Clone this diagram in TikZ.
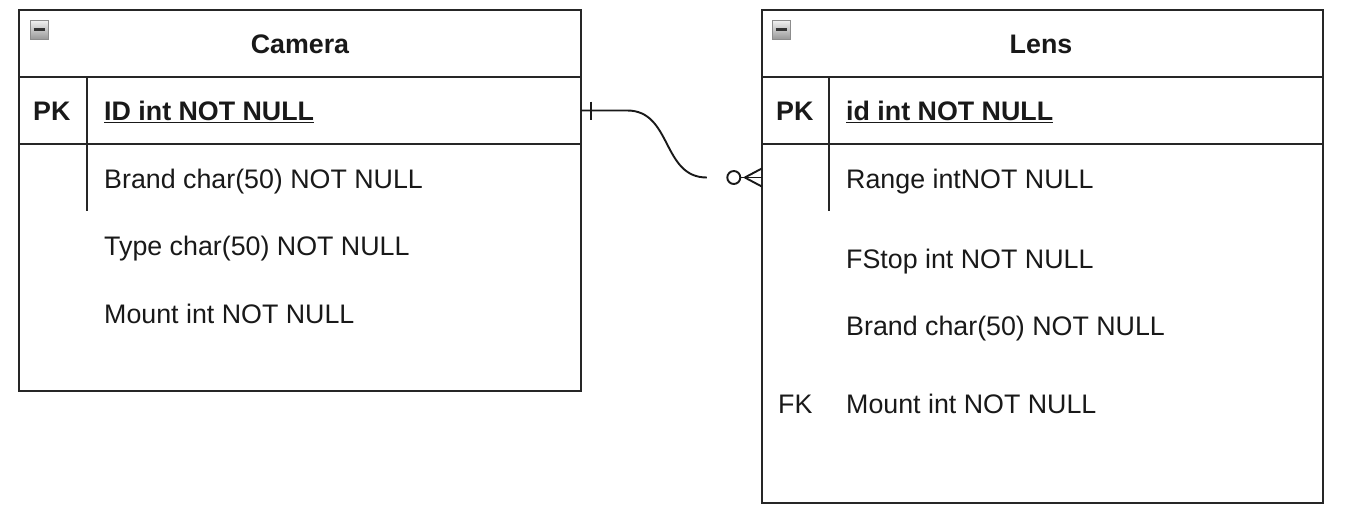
\documentclass[tikz,border=0pt]{standalone}
\usepackage{fontspec}
\setmainfont{Liberation Sans}
\usetikzlibrary{calc}
\begin{document}
\begin{tikzpicture}[x=1pt,y=-1pt,
  tbl/.style={draw=black!85,line width=2pt,fill=white},
  sep/.style={draw=black!85,line width=1.8pt},
  txt/.style={anchor=base west,inner sep=0pt,font=\fontsize{26.8}{30}\selectfont,text=black!90},
  btxt/.style={txt,font=\fontsize{26.8}{30}\selectfont\bfseries},
  ttl/.style={anchor=base,inner sep=0pt,font=\fontsize{26.8}{30}\selectfont\bfseries,text=black!90},
  conn/.style={draw=black!90,line width=1.9pt},
  icon/.style={draw=black!45,line width=1pt,top color=black!5,bottom color=black!40}
]
\useasboundingbox (0,0) rectangle (1352,531);
% ---------- Camera table ----------
\path[tbl] (19,10) rectangle (581,391);
\draw[sep] (19,77) -- (581,77);
\draw[sep] (19,144) -- (581,144);
\draw[sep] (87,77) -- (87,211);
\node[minimum width=562pt,minimum height=67pt,inner sep=0pt] (camPK) at (300,110.5) {};
\path[icon] (30,20) rectangle (48,39);
\draw[black!80,line width=3pt] (33.5,29.5) -- (44.5,29.5);
\node[ttl] (camT) at (300,53) {Camera};
\node[btxt] (camPKl) at (33,120.5) {PK};
\node[btxt] (camID) at (104,120.5) {\underline{ID int NOT NULL}};
\node[txt] (camBrand) at (104,188.5) {Brand char(50) NOT NULL};
\node[txt] (camType) at (104,255.5) {Type char(50) NOT NULL};
\node[txt] (camMount) at (104,323.5) {Mount int NOT NULL};
% ---------- Lens table ----------
\path[tbl] (762,10) rectangle (1323,503);
\draw[sep] (762,77) -- (1323,77);
\draw[sep] (762,144) -- (1323,144);
\draw[sep] (829,77) -- (829,211);
\node[minimum width=561pt,minimum height=67pt,inner sep=0pt] (lensRange) at (1042.5,177.5) {};
\path[icon] (772,20) rectangle (790,39);
\draw[black!80,line width=3pt] (775.5,29.5) -- (786.5,29.5);
\node[ttl] (lensT) at (1041,53) {Lens};
\node[btxt] (lensPKl) at (776,120.5) {PK};
\node[btxt] (lensID) at (846,120.5) {\underline{id int NOT NULL}};
\node[txt] (lensRangeT) at (846,188.5) {Range intNOT NULL};
\node[txt] (lensFStop) at (846,268.5) {FStop int NOT NULL};
\node[txt] (lensBrand) at (846,335.5) {Brand char(50) NOT NULL};
\node[txt] (lensFK) at (778,413.5) {FK};
\node[txt] (lensMount) at (846,413.5) {Mount int NOT NULL};
% ---------- Connector ----------
\coordinate (a1) at ($(camPK.east)+(46,0)$);
\coordinate (b0) at (lensRange.west);
\coordinate (b1) at ($(b0)+(-55,0)$);
\draw[conn] (camPK.east) -- (a1) .. controls ($(a1)+(45,0)$) and ($(b1)+(-45,0)$) .. (b1);
\draw[conn] ($(camPK.east)+(10,-9)$) -- ($(camPK.east)+(10,9)$);
\draw[conn] ($(b0)+(-28,0)$) circle (6.5pt);
\draw[conn] ($(b0)+(-17,0)$) -- ($(b0)+(0,-9)$);
\draw[conn] ($(b0)+(-17,0)$) -- ($(b0)+(0,9)$);
\draw[conn] ($(b0)+(-21.5,0)$) -- (b0);
\end{tikzpicture}
\end{document}
